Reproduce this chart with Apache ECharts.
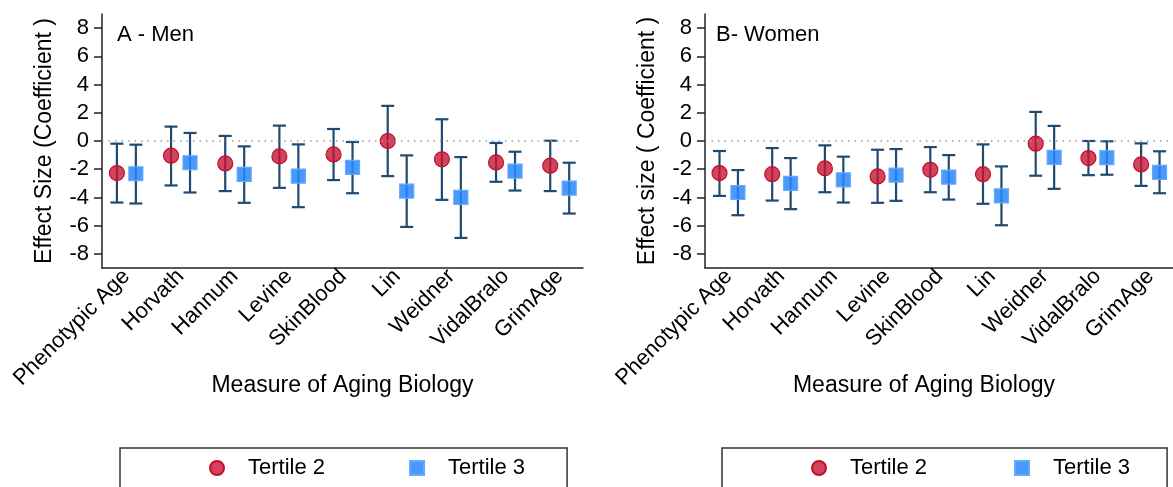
<!DOCTYPE html>
<html>
<head>
<meta charset="utf-8">
<script src="https://cdn.jsdelivr.net/npm/echarts@6/dist/echarts.min.js"></script>
<style>
html,body{margin:0;padding:0;background:#fff;}
#chart{width:1173px;height:487px;}
</style>
</head>
<body>
<div id="chart"></div>
<script>
const categories = ['Phenotypic Age','Horvath','Hannum','Levine','SkinBlood','Lin','Weidner','VidalBralo','GrimAge'];
const yTicks = [-8,-6,-4,-2,0,2,4,6,8];

const menT2Est = [-2.27,-1.04,-1.59,-1.09,-0.95,0.00,-1.30,-1.52,-1.75];
const menT2Lo  = [-4.36,-3.15,-3.55,-3.32,-2.77,-2.49,-4.17,-2.89,-3.55];
const menT2Hi  = [-0.19, 1.02, 0.36, 1.09, 0.85, 2.49, 1.54,-0.14, 0.02];
const menT3Est = [-2.32,-1.54,-2.37,-2.49,-1.87,-3.55,-4.00,-2.13,-3.34];
const menT3Lo  = [-4.43,-3.65,-4.38,-4.69,-3.70,-6.09,-6.87,-3.51,-5.14];
const menT3Hi  = [-0.26, 0.57,-0.38,-0.24,-0.07,-1.02,-1.14,-0.76,-1.54];

const womenT2Est = [-2.27,-2.35,-1.94,-2.51,-2.04,-2.35,-0.19,-1.21,-1.66];
const womenT2Lo  = [-3.89,-4.22,-3.63,-4.38,-3.63,-4.45,-2.46,-2.42,-3.18];
const womenT2Hi  = [-0.71,-0.50,-0.31,-0.62,-0.43,-0.24, 2.06, 0.00,-0.17];
const womenT3Est = [-3.65,-3.01,-2.75,-2.42,-2.56,-3.89,-1.16,-1.18,-2.23];
const womenT3Lo  = [-5.26,-4.83,-4.36,-4.24,-4.15,-5.97,-3.39,-2.39,-3.70];
const womenT3Hi  = [-2.06,-1.21,-1.11,-0.57,-1.00,-1.80, 1.07,-0.02,-0.73];

const FONT = 'Liberation Sans, Arial, Helvetica, sans-serif';
const OFFSET = 0.175;
const BAR_COLOR = '#1f4a72';
const RED_FILL = 'rgba(200,20,50,0.80)';
const RED_BORDER = '#c0102c';
const BLUE_FILL = 'rgba(40,135,250,0.85)';
const BLUE_BORDER = '#63a9ff';

const xPos = (i, sign) => i + 1 + sign * OFFSET;

function ciData(lo, hi, sign) {
  return lo.map((v, i) => [xPos(i, sign), v, hi[i]]);
}
function ptData(est, sign) {
  return est.map((v, i) => [xPos(i, sign), v]);
}

function renderCI(params, api) {
  const x = api.value(0);
  const lo = api.coord([x, api.value(1)]);
  const hi = api.coord([x, api.value(2)]);
  const hw = 6.5;
  const style = { stroke: BAR_COLOR, lineWidth: 2.2, fill: null };
  return {
    type: 'group',
    children: [
      { type: 'line', shape: { x1: lo[0], y1: lo[1], x2: hi[0], y2: hi[1] }, style },
      { type: 'line', shape: { x1: lo[0] - hw, y1: lo[1], x2: lo[0] + hw, y2: lo[1] }, style },
      { type: 'line', shape: { x1: hi[0] - hw, y1: hi[1], x2: hi[0] + hw, y2: hi[1] }, style }
    ]
  };
}

function xAxisCfg(gridIndex, namePad) {
  return {
    type: 'value', gridIndex, min: 0.55, max: 9.43,
    name: 'Measure of Aging Biology', nameLocation: 'middle', nameGap: 106,
    nameMoveOverlap: false,
    nameTextStyle: { fontFamily: FONT, fontSize: 23, color: '#000', padding: namePad },
    axisLine: { show: true, onZero: false, lineStyle: { color: '#222', width: 1.5 } },
    axisTick: { show: false },
    splitLine: { show: false },
    axisLabel: {
      customValues: categories.map((c, i) => i + 1),
      formatter: v => categories[Math.round(v) - 1],
      rotate: 45, margin: 5, fontFamily: FONT, fontSize: 22, color: '#000',
      showMinLabel: true, showMaxLabel: true
    }
  };
}
function yAxisCfg(gridIndex, name) {
  return {
    type: 'value', gridIndex, min: -9, max: 9,
    name, nameLocation: 'middle', nameGap: 46,
    nameMoveOverlap: false,
    nameTextStyle: { fontFamily: FONT, fontSize: 23, color: '#000' },
    axisLine: { show: true, onZero: false, lineStyle: { color: '#222', width: 1.5 } },
    axisTick: { show: true, customValues: yTicks, length: 8, lineStyle: { color: '#222', width: 1.5 } },
    splitLine: { show: false },
    axisLabel: { customValues: yTicks, margin: 13, fontFamily: FONT, fontSize: 22, color: '#000' }
  };
}

function panelSeries(idx, t2Est, t2Lo, t2Hi, t3Est, t3Lo, t3Hi) {
  return [
    {
      name: 'CI Tertile 2', type: 'custom', xAxisIndex: idx, yAxisIndex: idx,
      renderItem: renderCI, data: ciData(t2Lo, t2Hi, -1), encode: { x: 0, y: [1, 2] }, z: 2,
      markLine: {
        silent: true, symbol: 'none', label: { show: false },
        lineStyle: { color: '#9a9a9a', type: [1.5, 5], width: 1.5 },
        data: [{ yAxis: 0 }]
      }
    },
    {
      name: 'CI Tertile 3', type: 'custom', xAxisIndex: idx, yAxisIndex: idx,
      renderItem: renderCI, data: ciData(t3Lo, t3Hi, 1), encode: { x: 0, y: [1, 2] }, z: 2
    },
    {
      name: 'Tertile 2', type: 'scatter', xAxisIndex: idx, yAxisIndex: idx,
      symbol: 'circle', symbolSize: 15, data: ptData(t2Est, -1), z: 3,
      itemStyle: { color: RED_FILL, borderColor: RED_BORDER, borderWidth: 1.2, opacity: 1 }
    },
    {
      name: 'Tertile 3', type: 'scatter', xAxisIndex: idx, yAxisIndex: idx,
      symbol: 'rect', symbolSize: 14, data: ptData(t3Est, 1), z: 3,
      itemStyle: { color: BLUE_FILL, borderColor: BLUE_BORDER, borderWidth: 1.2, opacity: 1 }
    }
  ];
}

function legendCfg(left, pad, gap) {
  return {
    left, top: 448,
    orient: 'horizontal',
    data: [{ name: 'Tertile 2', icon: 'circle' }, { name: 'Tertile 3', icon: 'rect' }],
    itemWidth: 14, itemHeight: 14, itemGap: gap,
    padding: pad,
    borderColor: '#333', borderWidth: 1.5, borderRadius: 0,
    selectedMode: false,
    textStyle: { fontFamily: FONT, fontSize: 22, color: '#000', padding: [0, 0, 0, 19] }
  };
}

const chart = echarts.init(document.getElementById('chart'), null, { renderer: 'canvas' });
chart.setOption({
  backgroundColor: '#fff',
  animation: false,
  title: [
    { text: 'A - Men', left: 112, top: 19, textStyle: { fontFamily: FONT, fontSize: 22, fontWeight: 'normal', color: '#000' } },
    { text: 'B- Women', left: 711, top: 19, textStyle: { fontFamily: FONT, fontSize: 22, fontWeight: 'normal', color: '#000' } }
  ],
  grid: [
    { left: 102, top: 14, width: 481, height: 254, containLabel: false },
    { left: 705, top: 14, width: 481, height: 254, containLabel: false }
  ],
  xAxis: [xAxisCfg(0, [0, 0, 0, 0]), xAxisCfg(1, [0, 30, 0, 0])],
  yAxis: [yAxisCfg(0, 'Effect Size (Coefficient )'), yAxisCfg(1, 'Effect size ( Coefficient )')],
  legend: [
    legendCfg(120, [9, 42, 30, 89], 84),
    legendCfg(722, [9, 37, 30, 89], 87)
  ],
  series: [
    ...panelSeries(0, menT2Est, menT2Lo, menT2Hi, menT3Est, menT3Lo, menT3Hi),
    ...panelSeries(1, womenT2Est, womenT2Lo, womenT2Hi, womenT3Est, womenT3Lo, womenT3Hi)
  ]
});
</script>
</body>
</html>
